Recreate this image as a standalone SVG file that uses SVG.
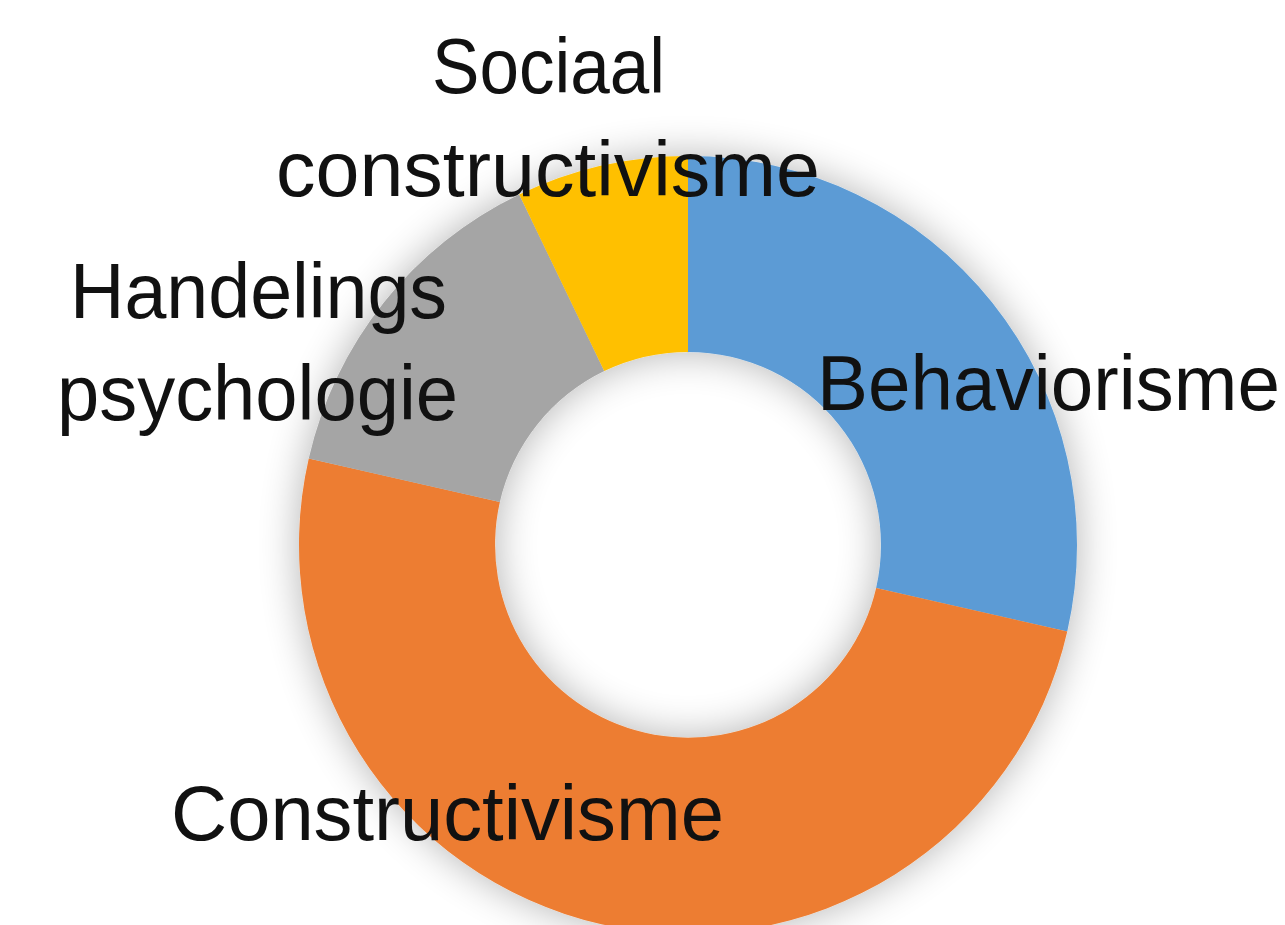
<svg xmlns="http://www.w3.org/2000/svg" width="1285" height="925" viewBox="0 0 1285 925">
  <defs>
    <filter id="sh" x="-25%" y="-25%" width="150%" height="150%">
      <feGaussianBlur in="SourceAlpha" stdDeviation="20"/>
      <feComponentTransfer><feFuncA type="linear" slope="0.3"/></feComponentTransfer>
      <feMerge><feMergeNode/><feMergeNode in="SourceGraphic"/></feMerge>
    </filter>
  </defs>
  <style>
    .lbl { font-family: "Liberation Sans", Arial, sans-serif; font-size: 77px; fill: #111111; }
  </style>
  <rect width="1285" height="925" fill="#ffffff"/>
  <g id="ring" filter="url(#sh)">
    <g id="slice-behaviorisme"><path d="M688,156 A389,389 0 0 1 1067.25,631.56 L876.16,587.95 A193,193 0 0 0 688,352 Z" fill="#5B9BD5"/></g>
    <g id="slice-constructivisme"><path d="M1067.25,631.56 A389,389 0 0 1 308.75,458.44 L499.84,502.05 A193,193 0 0 0 876.16,587.95 Z" fill="#ED7D31"/></g>
    <g id="slice-handelingspsychologie"><path d="M308.75,458.44 A389,389 0 0 1 519.22,194.52 L604.26,371.11 A193,193 0 0 0 499.84,502.05 Z" fill="#A5A5A5"/></g>
    <g id="slice-sociaal"><path d="M519.22,194.52 A389,389 0 0 1 688,156 L688,352 A193,193 0 0 0 604.26,371.11 Z" fill="#FFC000"/></g>
  </g>
  <g id="connectors"/>
  <g id="labels">
    <g id="label-sociaal">
      <text class="lbl" x="432" y="93" textLength="233" lengthAdjust="spacingAndGlyphs">Sociaal</text>
      <text class="lbl" x="276" y="196" textLength="544" lengthAdjust="spacingAndGlyphs">constructivisme</text>
    </g>
    <g id="label-handelings">
      <text class="lbl" x="70" y="318" textLength="377" lengthAdjust="spacingAndGlyphs">Handelings</text>
      <text class="lbl" x="57" y="420" textLength="401" lengthAdjust="spacingAndGlyphs">psychologie</text>
    </g>
    <g id="label-behaviorisme">
      <text class="lbl" x="817" y="410" textLength="463" lengthAdjust="spacingAndGlyphs">Behaviorisme</text>
    </g>
    <g id="label-constructivisme">
      <text class="lbl" x="171" y="840" textLength="553" lengthAdjust="spacingAndGlyphs">Constructivisme</text>
    </g>
  </g>
</svg>
